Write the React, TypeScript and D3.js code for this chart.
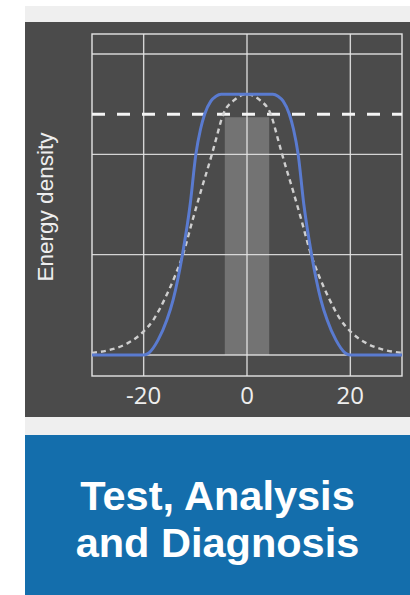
import * as d3 from 'd3'

const W = 410
const H = 595

// layout pieces
const PANEL = { x: 25, top: 22, bottom: 417 }
const PLOT = { left: 92, right: 402, top: 34, bottom: 376 }
const BOX = { top: 435, bottom: 595 }

// data
const xTicks = [-20, 0, 20]
const yGrid = [0, 1, 2, 3]
const threshold = 2.4
const barRange = [-4.3, 4.3]
const barHeight = 2.37

const blueX = [-30, -20, -19, -17.2, -15.5, -14.3, -12.5, -11, -9.9, -9, -8.2, -7, -6, -5, 0, 5, 6, 7, 8.2, 9, 9.9, 11, 12.5, 14.3, 15.5, 17.2, 19, 20, 30]
const blueY = [0, 0, 0.02, 0.15, 0.35, 0.55, 1.0, 1.5, 2.0, 2.25, 2.4, 2.53, 2.58, 2.6, 2.6, 2.6, 2.58, 2.53, 2.4, 2.25, 2.0, 1.5, 1.0, 0.55, 0.35, 0.15, 0.02, 0, 0]

const grayX = [-30, -26.6, -23, -20.3, -18, -16, -14, -12.4, -10.5, -9, -6.8, -6, -4.6, -2.5, 0, 2.5, 4.6, 6, 6.8, 9, 10.5, 12.4, 14, 16, 18, 20.3, 23, 26.6, 30]
const grayY = [0.02, 0.05, 0.12, 0.22, 0.36, 0.55, 0.78, 1.0, 1.35, 1.62, 2.0, 2.15, 2.4, 2.54, 2.6, 2.54, 2.4, 2.15, 2.0, 1.62, 1.35, 1.0, 0.78, 0.55, 0.36, 0.22, 0.12, 0.05, 0.02]

const titleLines = ['Test, Analysis', 'and Diagnosis']

export default function App() {
  const x = d3.scaleLinear().domain([-30, 30]).range([PLOT.left, PLOT.right])
  const y = d3.scaleLinear().domain([-0.21, 3.2]).range([PLOT.bottom, PLOT.top])

  const line = d3.line<[number, number]>()
    .x(d => x(d[0]))
    .y(d => y(d[1]))
    .curve(d3.curveMonotoneX)

  const blue = line(blueX.map((v, i) => [v, blueY[i]]) as [number, number][]) || ''
  const gray = line(grayX.map((v, i) => [v, grayY[i]]) as [number, number][]) || ''

  const gridColor = '#e4e4e4'

  return (
    <svg width={W} height={H} style={{ position: 'absolute', left: 0, top: 0, display: 'block' }}>
      <rect x={0} y={0} width={W} height={H} fill="#ffffff" />
      {/* light bands */}
      <rect x={PANEL.x} y={6} width={W - PANEL.x} height={PANEL.top - 6} fill="#efefef" />
      <rect x={PANEL.x} y={PANEL.bottom} width={W - PANEL.x} height={BOX.top - PANEL.bottom} fill="#efefef" />
      {/* dark panel */}
      <rect x={PANEL.x} y={PANEL.top} width={W - PANEL.x} height={PANEL.bottom - PANEL.top} fill="#4b4b4b" />

      {/* bar */}
      <rect
        x={x(barRange[0])}
        y={y(barHeight)}
        width={x(barRange[1]) - x(barRange[0])}
        height={y(0) - y(barHeight)}
        fill="#737373"
      />

      {/* grid */}
      {xTicks.map(t => (
        <line key={'vx' + t} x1={x(t)} x2={x(t)} y1={PLOT.top} y2={PLOT.bottom} stroke={gridColor} strokeWidth={1.4} opacity={0.9} />
      ))}
      {yGrid.map(t => (
        <line key={'hy' + t} x1={PLOT.left} x2={PLOT.right} y1={y(t)} y2={y(t)} stroke={gridColor} strokeWidth={1.4} opacity={0.9} />
      ))}
      <rect x={PLOT.left} y={PLOT.top} width={PLOT.right - PLOT.left} height={PLOT.bottom - PLOT.top} fill="none" stroke={gridColor} strokeWidth={1.4} />

      {/* threshold */}
      <line x1={PLOT.left} x2={PLOT.right} y1={y(threshold)} y2={y(threshold)} stroke="#f4f4f4" strokeWidth={3} strokeDasharray="13,12" />

      {/* curves */}
      <path d={gray} fill="none" stroke="#cfcfcf" strokeWidth={2.4} strokeDasharray="5,4" />
      <path d={blue} fill="none" stroke="#5a7bd0" strokeWidth={3} />

      {/* x tick labels */}
      {xTicks.map(t => (
        <text key={'xl' + t} x={x(t)} y={404} textAnchor="middle" fill="#eeeeee" fontFamily="'Open Sans', sans-serif" fontSize={24}>
          {t}
        </text>
      ))}

      {/* y label */}
      <text
        transform={`translate(53,207) rotate(-90)`}
        textAnchor="middle"
        fill="#eeeeee"
        fontFamily="'Liberation Sans', Arial, sans-serif"
        fontSize={22.5}
      >
        Energy density
      </text>

      {/* bottom box */}
      <rect x={PANEL.x} y={BOX.top} width={W - PANEL.x} height={BOX.bottom - BOX.top} fill="#146eac" />
      {titleLines.map((s, i) => (
        <text
          key={s}
          x={(PANEL.x + W) / 2}
          y={510 + i * 47}
          textAnchor="middle"
          fill="#ffffff"
          fontFamily="'Liberation Sans', Arial, sans-serif"
          fontWeight="bold"
          fontSize={41.5}
        >
          {s}
        </text>
      ))}
    </svg>
  )
}
